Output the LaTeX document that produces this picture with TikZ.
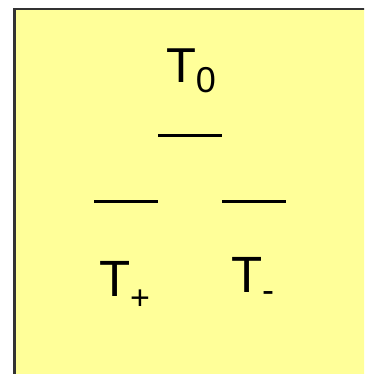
\documentclass[tikz,border=0pt]{standalone}
\usepackage{fontspec}
\setmainfont{Liberation Sans}
\usetikzlibrary{positioning}
\definecolor{paleyellow}{RGB}{255,255,153}

\begin{document}
\begin{tikzpicture}[
  x=1pt, y=-1pt,
  lbl/.style={anchor=base west, inner sep=0pt, outer sep=0pt},
  lev/.style={line width=3pt, black},
  frame/.style={draw=black!80, line width=2.6pt, fill=paleyellow}]

\useasboundingbox (0,0) rectangle (364,374);
\clip (0,0) rectangle (364,374);

\draw[frame] (14.5,9) rectangle (380,390);

% level lines
\coordinate (zl) at (158,136);
\coordinate (zr) at (222,136);
\coordinate (pl) at (94,201);
\coordinate (pr) at (158,201);
\coordinate (ml) at (222,201);
\coordinate (mr) at (286,201);
\draw[lev] (zl) -- (zr);
\draw[lev] (pl) -- (pr);
\draw[lev] (ml) -- (mr);

% labels
\node[lbl] (t0) at (166,83)
  {\fontsize{49}{51}\selectfont T\raisebox{-10pt}{\fontsize{36}{38}\selectfont 0}};
\node[lbl] (tp) at (99,296)
  {\fontsize{51}{53}\selectfont T\raisebox{-13pt}{\fontsize{34}{36}\selectfont +}};
\node[lbl] (tm) at (231,292)
  {\fontsize{51}{53}\selectfont T\raisebox{-10pt}{\fontsize{36}{38}\selectfont -}};
\end{tikzpicture}
\end{document}
